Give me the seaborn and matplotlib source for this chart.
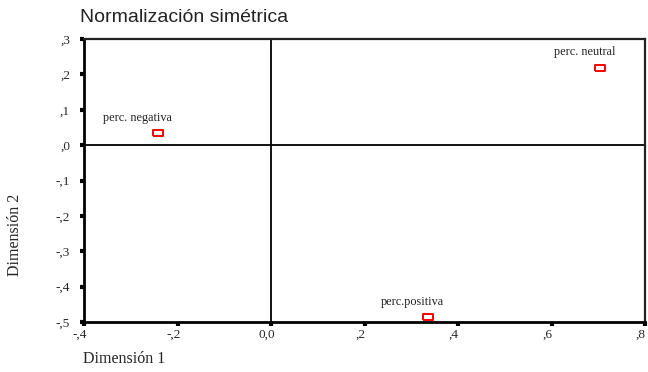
import matplotlib
matplotlib.use("Agg")
import matplotlib.pyplot as plt
import matplotlib.transforms as mtransforms
import seaborn as sns
import pandas as pd

categories = ["perc. neutral", "perc. negativa", "perc.positiva"]
dim1 = [0.704, -0.242, 0.336]
dim2 = [0.218, 0.034, -0.486]
x_ticks = [-0.4, -0.2, 0.0, 0.2, 0.4, 0.6, 0.8]
x_tick_labels = ["-,4", "-,2", "0,0", ",2", ",4", ",6", ",8"]
y_ticks = [0.3, 0.2, 0.1, 0.0, -0.1, -0.2, -0.3, -0.4, -0.5]
y_tick_labels = [",3", ",2", ",1", ",0", "-,1", "-,2", "-,3", "-,4", "-,5"]

df = pd.DataFrame({"cat": categories, "d1": dim1, "d2": dim2})

sns.set_theme(style="white")
plt.rcParams["font.family"] = ["Liberation Serif", "DejaVu Serif"]

fig = plt.figure(figsize=(6.48, 3.72), dpi=100)
ax = fig.add_axes([84/648, 1 - 322/372, (645-84)/648, (322-39)/372])

rect = [(-1.35, -1), (1.35, -1), (1.35, 1), (-1.35, 1), (-1.35, -1)]
sns.scatterplot(data=df, x="d1", y="d2", ax=ax, marker=rect, s=45,
                facecolor="white", edgecolor="red", linewidth=1.4, zorder=5)

ax.axhline(0, color="black", lw=1.3, zorder=1)
ax.axvline(0, color="black", lw=1.3, zorder=1)

label_offsets = {"perc. neutral": (-0.032, 0.045),
                 "perc. negativa": (-0.043, 0.043),
                 "perc.positiva": (-0.034, 0.043)}
for c, x, y in zip(categories, dim1, dim2):
    dx, dy = label_offsets[c]
    ax.text(x + dx, y + dy, c, ha="center", va="center", fontsize=8.8, color="#222222")

ax.set_xlim(-0.4, 0.8)
ax.set_ylim(-0.5, 0.3)
ax.set_xticks(x_ticks)
ax.set_xticklabels(x_tick_labels, fontsize=9.5)
ax.set_yticks(y_ticks)
ax.set_yticklabels(y_tick_labels, fontsize=9.5)
ax.tick_params(axis="both", which="major", length=3, width=3, color="black",
               direction="out", bottom=True, left=True)
ax.tick_params(axis="y", pad=7)
ax.tick_params(axis="x", pad=1.5)
shift = mtransforms.ScaledTranslation(-4/100, 0, fig.dpi_scale_trans)
for lab in ax.get_xticklabels():
    lab.set_transform(lab.get_transform() + shift)
for side in ["left", "bottom"]:
    ax.spines[side].set_linewidth(2)
    ax.spines[side].set_color("black")
for side in ["top", "right"]:
    ax.spines[side].set_linewidth(1.6)
    ax.spines[side].set_color("#222222")
ax.set_xlabel("")
ax.set_ylabel("")

fig.text(83/648, 1 - 359/372, "Dimensión 1", fontsize=11.5, ha="left", va="center")
fig.text(15/648, 1 - 235/372, "Dimensión 2", fontsize=11.5, ha="center", va="center", rotation=90)
fig.text(80/648, 1 - 17/372, "Normalización simétrica", fontsize=14, ha="left", va="center",
         family=["Liberation Sans", "DejaVu Sans"], color="#222222")

fig.savefig("out.png", dpi=100, facecolor="white")
